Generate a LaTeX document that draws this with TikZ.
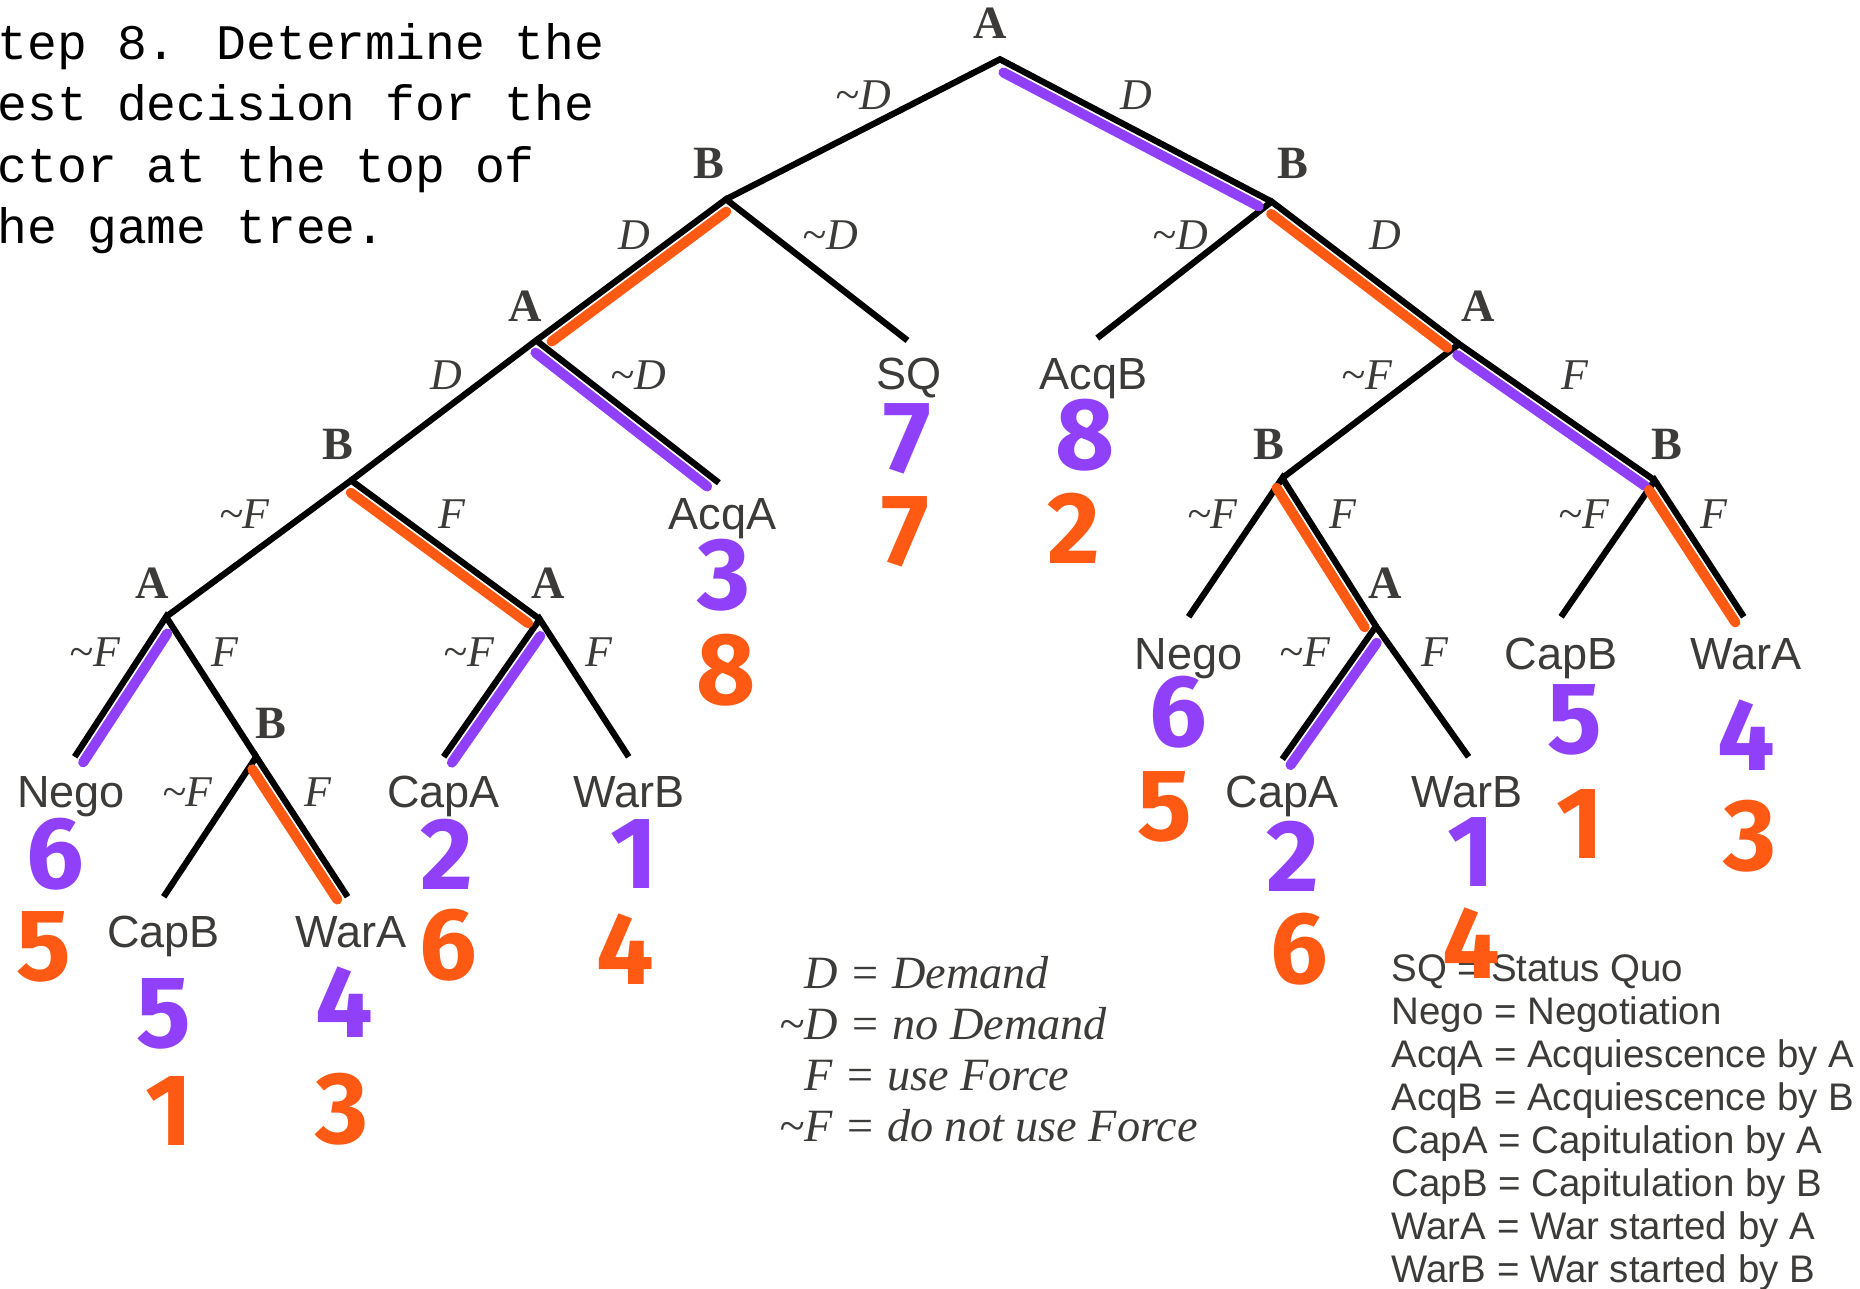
\documentclass[tikz,border=0pt]{standalone}
\usepackage{fontspec}
\usetikzlibrary{calc}
\setmainfont{Liberation Serif}
\newfontfamily\lsans{Liberation Sans}
\newfontfamily\lmono{Liberation Mono}
\newfontfamily\hand{Fira Sans}
\definecolor{hlpurple}{HTML}{9040F9}
\definecolor{hlorange}{HTML}{FF5A14}
\definecolor{ink}{HTML}{3C3B39}
\tikzset{
  edge/.style={line width=5.3pt, black, line cap=butt, line join=miter},
  hlP/.style={line width=8.5pt, hlpurple, line cap=round},
  hlO/.style={line width=8.5pt, hlorange, line cap=round},
  player/.style={font=\fontsize{39}{39}\selectfont\bfseries, text=ink, inner sep=0pt},
  move/.style={font=\fontsize{37}{37}\selectfont\itshape, text=ink, inner sep=0pt},
  leaf/.style={font=\fontsize{38}{38}\lsans, text=ink, inner sep=0pt, anchor=base},
  pay/.style={font=\fontsize{86}{86}\hand\bfseries, inner sep=0pt},
  payA/.style={pay, text=hlpurple},
  payB/.style={pay, text=hlorange},
  legC/.style={font=\fontsize{39}{39}\selectfont\itshape, text=ink, inner sep=0pt, anchor=base west},
  legS/.style={font=\fontsize{32.4}{32.4}\lsans, text=ink, inner sep=0pt, anchor=base west},
  note/.style={font=\fontsize{41.9}{41.9}\lmono, text=black, inner sep=0pt, anchor=base west},
}
\newcommand\hlseg[6]{%
  \draw[#1] ($(#2)!#4!(#3) + (#2)!8.5pt!#6:(#3) - (#2)$) -- ($(#2)!#5!(#3) + (#2)!8.5pt!#6:(#3) - (#2)$);}
\begin{document}
\begin{tikzpicture}[x=1pt,y=-1pt]
\useasboundingbox[fill=white] (0,0) rectangle (1568,1086);

% top-left note
\node[note] (n1) at (-2,50) {tep 8. Determine the};
\node[note] (n2) at (-2,102) {est decision for the};
\node[note] (n3) at (-2,154) {ctor at the top of};
\node[note] (n4) at (-2,205) {he game tree.};

% tree vertices
\coordinate (r) at (843,50);
\coordinate (b1) at (612,168);
\coordinate (b2) at (1072,170);
\coordinate (a2) at (452,287);
\coordinate (sqE) at (765,287);
\coordinate (acqbE) at (925,285);
\coordinate (a3) at (1230,290);
\coordinate (b3) at (296,405);
\coordinate (acqaE) at (606,407);
\coordinate (b4) at (1081,403);
\coordinate (b5) at (1395,405);
\coordinate (a4) at (140,520);
\coordinate (a5) at (455,522);
\coordinate (negoRE) at (1002,520);
\coordinate (a6) at (1160,528);
\coordinate (capbRE) at (1316,520);
\coordinate (waraRE) at (1470,520);
\coordinate (negoLE) at (63,638);
\coordinate (b6) at (216,638);
\coordinate (capaLE) at (374,638);
\coordinate (warbLE) at (530,638);
\coordinate (capaRE) at (1081,640);
\coordinate (warbRE) at (1238,638);
\coordinate (capbLE) at (138,756);
\coordinate (waraLE) at (293,756);

% black edges
\draw[edge] (b1) -- (r) -- (b2);
\draw[edge] (a2) -- (b1) -- (sqE);
\draw[edge] (acqbE) -- (b2) -- (a3);
\draw[edge] (b3) -- (a2) -- (acqaE);
\draw[edge] (b4) -- (a3) -- (b5);
\draw[edge] (a4) -- (b3) -- (a5);
\draw[edge] (negoRE) -- (b4) -- (a6);
\draw[edge] (capbRE) -- (b5) -- (waraRE);
\draw[edge] (negoLE) -- (a4) -- (b6);
\draw[edge] (capaLE) -- (a5) -- (warbLE);
\draw[edge] (capaRE) -- (a6) -- (warbRE);
\draw[edge] (capbLE) -- (b6) -- (waraLE);

% highlights
\hlseg{hlP}{r}{b2}{0.03}{0.97}{-90}
\hlseg{hlP}{a2}{acqaE}{0.03}{0.97}{-90}
\hlseg{hlP}{a4}{negoLE}{0.08}{1.0}{90}
\hlseg{hlP}{a5}{capaLE}{0.08}{1.0}{90}
\hlseg{hlP}{a3}{b5}{0.02}{0.98}{-90}
\hlseg{hlP}{a6}{capaRE}{0.08}{1.0}{90}
\hlseg{hlO}{b1}{a2}{0.03}{0.95}{90}
\hlseg{hlO}{b3}{a5}{0.03}{0.97}{-90}
\hlseg{hlO}{b6}{waraLE}{0.05}{0.98}{-90}
\hlseg{hlO}{b2}{a3}{0.03}{0.97}{-90}
\hlseg{hlO}{b4}{a6}{0.03}{0.97}{-90}
\hlseg{hlO}{b5}{waraRE}{0.03}{1.0}{-90}

% player labels
\node[player] (lr) at (835,20) {A};
\node[player] (lb1) at (598,138) {B};
\node[player] (lb2) at (1090,138) {B};
\node[player] (la2) at (443,258) {A};
\node[player] (la3) at (1246,258) {A};
\node[player] (lb3) at (285,375) {B};
\node[player] (lb4) at (1070,375) {B};
\node[player] (lb5) at (1405,375) {B};
\node[player] (la4) at (128,492) {A};
\node[player] (la5) at (462,492) {A};
\node[player] (lb6) at (228,610) {B};
\node[player] (la6) at (1168,492) {A};

% move labels
\node[move] (m1) at (728,80) {\textasciitilde D};
\node[move] (m2) at (958,80) {D};
\node[move] (m3) at (535,198) {D};
\node[move] (m4) at (700,198) {\textasciitilde D};
\node[move] (m5) at (995,198) {\textasciitilde D};
\node[move] (m6) at (1168,198) {D};
\node[move] (m7) at (376,316) {D};
\node[move] (m8) at (538,316) {\textasciitilde D};
\node[move] (m9) at (1152,316) {\textasciitilde F};
\node[move] (m10) at (1328,316) {F};
\node[move] (m11) at (206,433) {\textasciitilde F};
\node[move] (m12) at (381,433) {F};
\node[move] (m13) at (1022,433) {\textasciitilde F};
\node[move] (m14) at (1132,433) {F};
\node[move] (m15) at (1335,433) {\textasciitilde F};
\node[move] (m16) at (1445,433) {F};
\node[move] (m17) at (80,550) {\textasciitilde F};
\node[move] (m18) at (190,550) {F};
\node[move] (m19) at (395,550) {\textasciitilde F};
\node[move] (m20) at (505,550) {F};
\node[move] (m21) at (1100,550) {\textasciitilde F};
\node[move] (m22) at (1210,550) {F};
\node[move] (m23) at (158,668) {\textasciitilde F};
\node[move] (m24) at (268,668) {F};

% outcomes
\node[leaf] (sq) at (766,328) {SQ};
\node[leaf] (acqb) at (922,328) {AcqB};
\node[leaf] (acqa) at (609,446) {AcqA};
\node[leaf] (negoL) at (60,681) {Nego};
\node[leaf] (capaL) at (374,681) {CapA};
\node[leaf] (warbL) at (530,681) {WarB};
\node[leaf] (capbL) at (138,799) {CapB};
\node[leaf] (waraL) at (296,799) {WarA};
\node[leaf] (negoR) at (1002,564) {Nego};
\node[leaf] (capbR) at (1316,564) {CapB};
\node[leaf] (waraR) at (1472,564) {WarA};
\node[leaf] (capaR) at (1081,681) {CapA};
\node[leaf] (warbR) at (1237,681) {WarB};

% legends
\node[legC] (lg1) at (678,833) {D = Demand};
\node[legC] (lg2) at (678,876) {\llap{\textasciitilde}D = no Demand};
\node[legC] (lg3) at (678,919) {F = use Force};
\node[legC] (lg4) at (678,962) {\llap{\textasciitilde}F = do not use Force};

\node[legS] (ls1) at (1173,827) {SQ = Status Quo};
\node[legS] (ls2) at (1173,863.3) {Nego = Negotiation};
\node[legS] (ls3) at (1173,899.6) {AcqA = Acquiescence by A};
\node[legS] (ls4) at (1173,935.9) {AcqB = Acquiescence by B};
\node[legS] (ls5) at (1173,972.2) {CapA = Capitulation by A};
\node[legS] (ls6) at (1173,1008.5) {CapB = Capitulation by B};
\node[legS] (ls7) at (1173,1044.8) {WarA = War started by A};
\node[legS] (ls8) at (1173,1081.1) {WarB = War started by B};

% payoffs
\node[payA] (p1) at (765,370) {7};  \node[payB] (q1) at (763,448) {7};
\node[payA] (p2) at (915,367) {8};  \node[payB] (q2) at (905,445) {2};
\node[payA] (p3) at (610,485) {3};  \node[payB] (q3) at (612,565) {8};
\node[payA] (p4) at (47,720) {6};   \node[payB] (q4) at (37,798) {5};
\node[payA] (p5) at (138,855) {5};  \node[payB] (q5) at (143,937) {1};
\node[payA] (p6) at (290,845) {4};  \node[payB] (q6) at (288,935) {3};
\node[payA] (p7) at (377,720) {2};  \node[payB] (q7) at (378,797) {6};
\node[payA] (p8) at (535,720) {1};  \node[payB] (q8) at (527,800) {4};
\node[payA] (p9) at (993,600) {6};  \node[payB] (q9) at (982,680) {5};
\node[payA] (p10) at (1090,722) {2}; \node[payB] (q10) at (1095,800) {6};
\node[payA] (p11) at (1240,718) {1}; \node[payB] (q11) at (1240,795) {4};
\node[payA] (p12) at (1328,607) {5}; \node[payB] (q12) at (1332,695) {1};
\node[payA] (p13) at (1472,620) {4}; \node[payB] (q13) at (1475,705) {3};
\end{tikzpicture}
\end{document}
